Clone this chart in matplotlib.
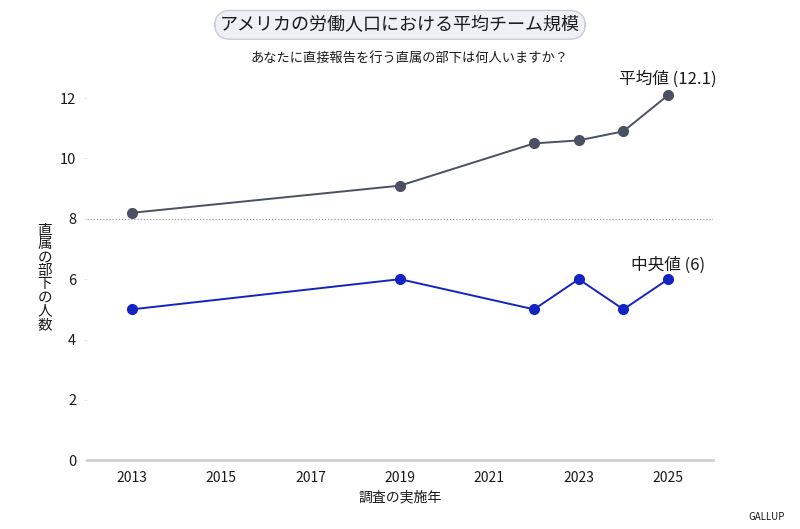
import matplotlib.pyplot as plt

plt.rcParams['font.family'] = ['Noto Sans CJK JP', 'DejaVu Sans']

# データ
years_mean = [2013, 2019, 2022, 2023, 2024, 2025]
mean_vals = [8.2, 9.1, 10.5, 10.6, 10.9, 12.1]
years_median = [2013, 2019, 2022, 2023, 2024, 2025]
median_vals = [5, 6, 5, 6, 5, 6]
x_ticks = [2013, 2015, 2017, 2019, 2021, 2023, 2025]
y_ticks = [0, 2, 4, 6, 8, 10, 12]

COLOR_MEAN = "#4b5162"
COLOR_MEDIAN = "#1424c2"
COLOR_TEXT = "#1a1a1a"

fig = plt.figure(figsize=(8, 5.29), dpi=100)
ax = fig.add_axes([0.109, 0.130, 0.782, 0.713])

ax.plot(years_mean, mean_vals, color=COLOR_MEAN, linewidth=1.4, marker='o', markersize=7, zorder=3)
ax.plot(years_median, median_vals, color=COLOR_MEDIAN, linewidth=1.4, marker='o', markersize=7, zorder=3)

ax.axhline(8, color='#9a9a9a', linewidth=0.9, linestyle=(0, (1, 1.5)), zorder=1)

ax.set_xlim(2012, 2026)
ax.set_ylim(0, 12.5)
ax.set_xticks(x_ticks)
ax.set_yticks(y_ticks)
ax.tick_params(axis='x', length=0, pad=8, labelsize=10, labelcolor=COLOR_TEXT)
ax.tick_params(axis='y', length=2, color='#e6e6e6', pad=6, labelsize=10.5, labelcolor=COLOR_TEXT)

for s in ['top', 'right', 'left']:
    ax.spines[s].set_visible(False)
ax.spines['bottom'].set_color('#d0d0d0')
ax.spines['bottom'].set_linewidth(2)

ax.set_xlabel("調査の実施年", fontsize=10, color=COLOR_TEXT, labelpad=4)

# 縦書きのy軸ラベル
fig.text(0.056, 0.475, "\n".join("直属の部下の人数"), fontsize=10.5, color=COLOR_TEXT,
         ha='center', va='center', linespacing=0.95)

# 系列ラベル
ax.annotate(f"平均値 ({mean_vals[-1]})", xy=(years_mean[-1], mean_vals[-1]), xytext=(0, 5),
            textcoords='offset points', ha='center', va='bottom', fontsize=12, color=COLOR_TEXT)
ax.annotate(f"中央値 ({median_vals[-1]})", xy=(years_median[-1], median_vals[-1]), xytext=(0, 4),
            textcoords='offset points', ha='center', va='bottom', fontsize=12, color=COLOR_TEXT)

# タイトル
fig.text(0.5, 0.953, "アメリカの労働人口における平均チーム規模", fontsize=13, color=COLOR_TEXT,
         ha='center', va='center',
         bbox=dict(boxstyle='round,pad=0.3,rounding_size=0.9', facecolor='#eef0f5',
                   edgecolor='#c9cdd6', linewidth=1))
fig.text(0.512, 0.890, "あなたに直接報告を行う直属の部下は何人いますか？", fontsize=9.5,
         color=COLOR_TEXT, ha='center', va='center')

fig.text(0.958, 0.022, "GALLUP", fontsize=7, color=COLOR_TEXT, ha='center', va='center')

fig.savefig('out.png', dpi=100, facecolor='white')
